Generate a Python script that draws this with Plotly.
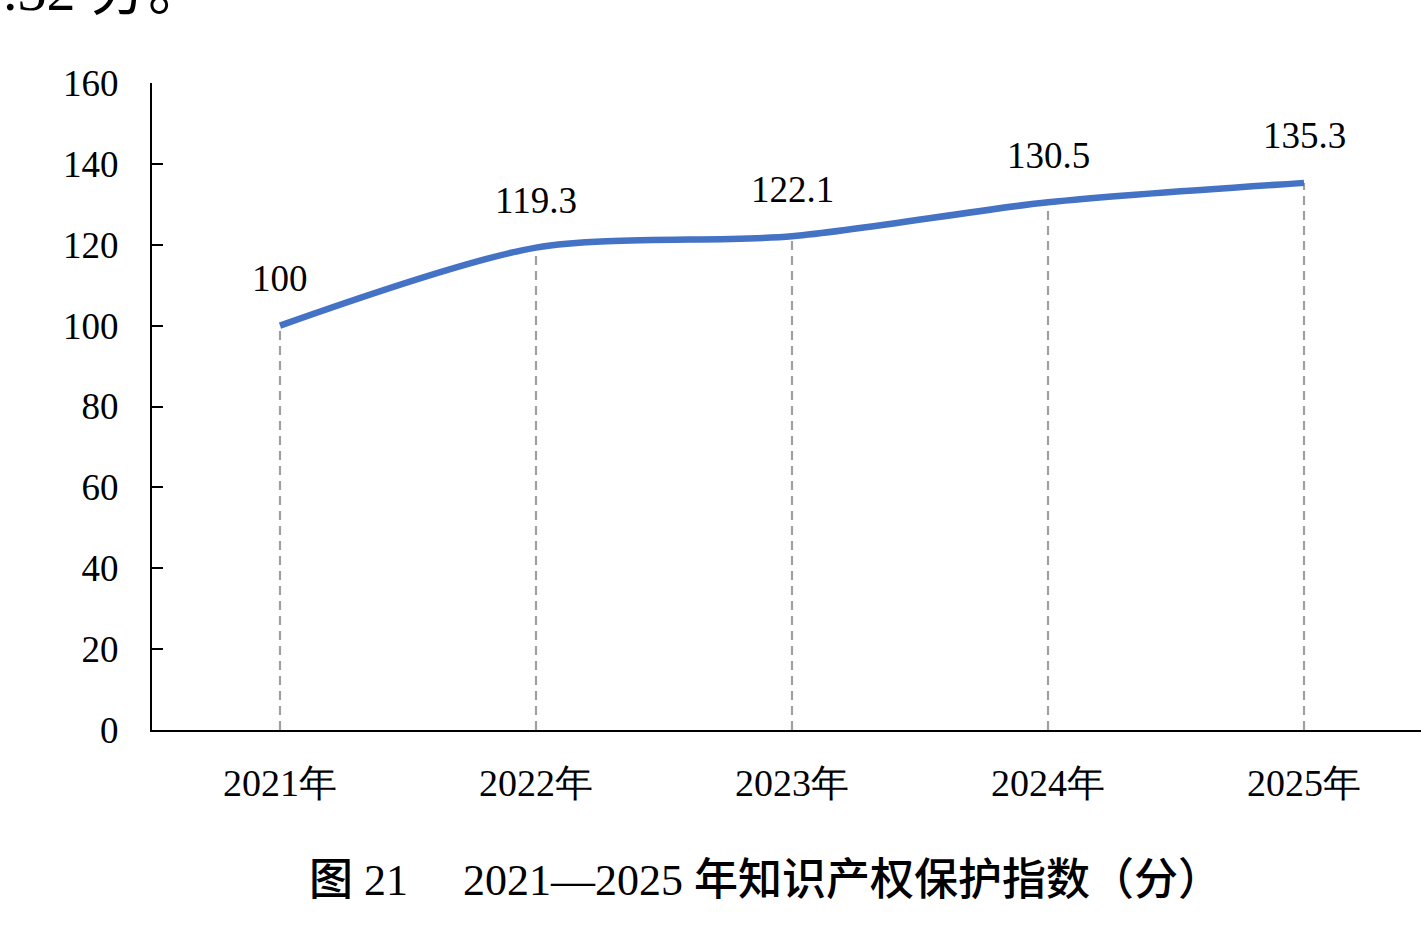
import plotly.graph_objects as go

years = ["2021年", "2022年", "2023年", "2024年", "2025年"]
values = [100, 119.3, 122.1, 130.5, 135.3]
value_labels = ["100", "119.3", "122.1", "130.5", "135.3"]
y_ticks = [0, 20, 40, 60, 80, 100, 120, 140, 160]

SERIF = "'Times New Roman', 'Liberation Serif', Tinos, 'DejaVu Serif', serif"
CJK = "'Noto Sans CJK SC'"
BLUE = "#4472C4"
GREY = "#A0A0A0"

fig = go.Figure()

# vertical dashed drop lines from each point down to the axis
drop_x, drop_y = [], []
for c, v in zip(years, values):
    drop_x += [c, c, None]
    drop_y += [0, v, None]
fig.add_trace(go.Scatter(
    x=drop_x, y=drop_y, mode="lines",
    line=dict(color=GREY, width=2.2, dash="9px,6px"),
    hoverinfo="skip", showlegend=False,
))

fig.add_trace(go.Scatter(
    x=years, y=values, mode="lines",
    line=dict(color=BLUE, width=6.5, shape="spline", smoothing=0.8),
    showlegend=False,
))

for c, v, t in zip(years, values, value_labels):
    fig.add_annotation(
        x=c, y=v, text=t, showarrow=False, yshift=47,
        font=dict(family=SERIF, size=37, color="#000000"),
    )

# figure caption
fig.add_annotation(
    xref="paper", yref="paper", x=(765 - 152) / 1269, y=-(876 - 730) / 647,
    text=(f"<span style=\"font-family:{CJK};font-weight:500\">图</span> 21　 2021—2025 "
          f"<span style=\"font-family:{CJK};font-weight:500\">年知识产权保护指数（分）</span>"),
    showarrow=False, xanchor="center", yanchor="middle",
    font=dict(family=SERIF, size=44, color="#000000"),
)

# clipped text from preceding paragraph at top-left
fig.add_annotation(
    xref="paper", yref="paper", x=(-28 - 152) / 1269, y=1 + (83 + 15) / 647,
    text=f"9.32 <span style=\"font-family:{CJK}\">分。</span>",
    showarrow=False, xanchor="left", yanchor="middle",
    font=dict(family=SERIF, size=58, color="#000000"),
)

fig.update_layout(
    width=1421, height=937,
    margin=dict(l=152, r=0, t=83, b=207),
    paper_bgcolor="white", plot_bgcolor="white",
    xaxis=dict(
        type="category", range=[-0.5, 4.457],
        showline=True, linecolor="#000000", linewidth=2,
        showgrid=False, zeroline=False, ticks="",
        tickfont=dict(family=SERIF, size=38, color="#000000"),
        ticklabelstandoff=18,
    ),
    yaxis=dict(
        range=[0, 160], tickvals=y_ticks,
        showline=True, linecolor="#000000", linewidth=2,
        showgrid=False, zeroline=False,
        ticks="inside", ticklen=11, tickwidth=2, tickcolor="#000000",
        tickfont=dict(family=SERIF, size=37, color="#000000"),
        ticklabelstandoff=24,
    ),
)

fig.write_html("out.html")
